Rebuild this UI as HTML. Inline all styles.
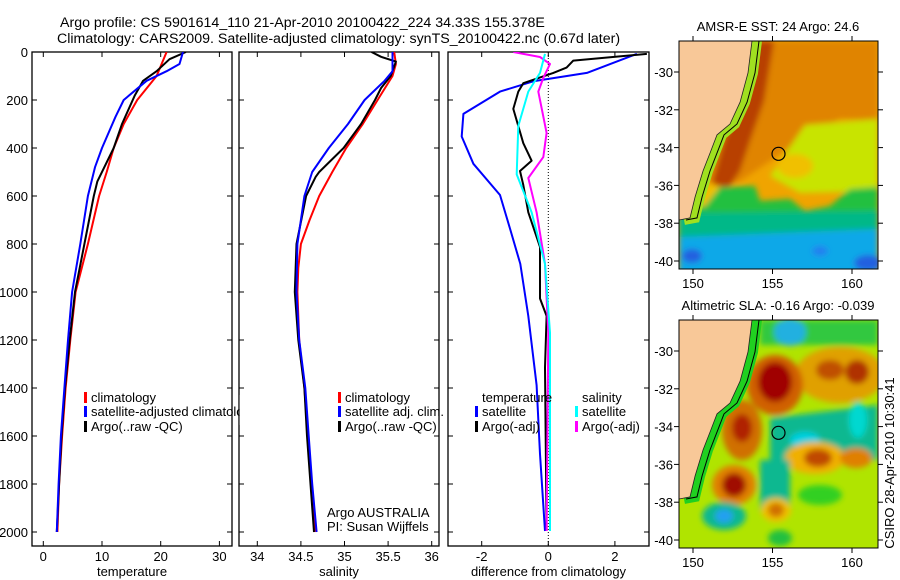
<!DOCTYPE html>
<html><head><meta charset="utf-8">
<style>
html,body{margin:0;padding:0;background:#fff;}
svg{display:block;font-family:"Liberation Sans",sans-serif;}
text{font-size:13px;fill:#000;}
</style></head>
<body>
<svg id="fig" width="900" height="580" viewBox="0 0 900 580" xmlns="http://www.w3.org/2000/svg">
<defs>
<filter id="bl" x="-20%" y="-20%" width="140%" height="140%"><feGaussianBlur stdDeviation="3"/></filter>
<clipPath id="cp1"><rect x="32" y="52" width="200" height="494"/></clipPath>
<clipPath id="cp2"><rect x="239" y="52" width="200" height="494"/></clipPath>
<clipPath id="cp3"><rect x="448" y="52" width="201" height="494"/></clipPath>
<clipPath id="cm1"><rect x="679" y="41" width="199" height="228"/></clipPath>
<clipPath id="cm2"><rect x="679" y="320" width="199" height="228"/></clipPath>
</defs>
<text x="60" y="27" style="font-size:14.2px">Argo profile: CS 5901614_110 21-Apr-2010 20100422_224 34.33S 155.378E</text>
<text x="57" y="43" style="font-size:14.2px">Climatology: CARS2009. Satellite-adjusted climatology: synTS_20100422.nc (0.67d later)</text>
<g id="plots"></g>
<g id="maps"></g>
</svg>
<script>
// ---------- data ----------
const depthTicks = [0,200,400,600,800,1000,1200,1400,1600,1800,2000];
const tempTicks = [0,10,20,30];
const salTicks = [34,34.5,35,35.5,36];
const salTickLabels = ["34","34.5","35","35.5","36"];
const diffTicks = [-2,0,2];

const tClimDepth = [0,100,200,300,400,500,600,800,1000,1200,1400,1600,1800,2000];
const tClimVal   = [21.0,19.3,16.0,13.7,12.0,10.8,9.5,7.6,5.5,4.6,3.8,3.2,2.7,2.4];
const tSatDepth  = [0,50,80,120,200,270,400,480,600,800,1000,1200,1400,1600,1800,2000];
const tSatVal    = [23.8,23.2,21.0,17.6,13.7,12.3,10.0,8.8,7.6,6.3,4.9,4.2,3.6,3.0,2.6,2.3];
const tArgoDepth = [0,30,80,120,180,300,400,540,600,800,1000,1200,1400,1600,1800,2000];
const tArgoVal   = [24.3,21.5,19.3,17.0,15.6,13.4,12.0,9.2,8.6,7.0,5.4,4.5,3.7,3.1,2.7,2.3];

const sClimDepth = [0,50,100,200,300,400,500,600,700,800,900,1000,1200,1400,1600,1800,2000];
const sClimVal   = [35.57,35.59,35.55,35.38,35.21,35.02,34.86,34.71,34.60,34.50,34.47,34.46,34.48,34.54,34.58,34.62,34.66];
const sSatDepth  = [0,80,120,200,300,400,500,600,800,1000,1200,1400,1600,1800,2000];
const sSatVal    = [35.55,35.55,35.46,35.23,35.04,34.82,34.63,34.54,34.46,34.45,34.48,34.55,34.59,34.63,34.68];
const sArgoDepth = [0,20,40,100,150,200,300,400,500,520,600,800,1000,1200,1400,1600,1800,2000];
const sArgoVal   = [35.31,35.42,35.59,35.53,35.42,35.35,35.19,34.99,34.71,34.67,34.56,34.45,34.43,34.47,34.54,34.57,34.61,34.65];

const dTSatDepth = [8,87,122,165,258,352,466,596,740,883,1100,1388,1675,1996];
const dTSatVal   = [2.66,1.16,-0.45,-1.45,-2.55,-2.6,-2.25,-1.45,-1.14,-0.84,-0.6,-0.35,-0.25,-0.1];
const dTArgoDepth= [8,36,65,87,130,165,237,380,453,496,554,668,812,1027,1100,1315,1996];
const dTArgoVal  = [2.96,0.75,0.55,0.15,-0.75,-0.9,-1.05,-0.75,-0.5,-0.85,-0.75,-0.6,-0.25,-0.25,-0.05,-0.1,-0.05];
const dSSatDepth = [8,87,165,308,510,668,883,1170,1996];
const dSSatVal   = [-0.1,-0.25,-0.6,-0.9,-0.95,-0.5,-0.1,0.05,0.05];
const dSArgoDepth= [0,21,50,108,165,337,438,525,668,883,1170,1996];
const dSArgoVal  = [-1.05,-0.25,0.05,-0.15,-0.3,-0.05,-0.15,-0.6,-0.35,-0.1,0,-0.05];

// ---------- helpers ----------
const NS="http://www.w3.org/2000/svg";
function mk(tag, attrs, parent){const e=document.createElementNS(NS,tag);for(const k in attrs)e.setAttribute(k,attrs[k]);parent.appendChild(e);return e;}
const plots=document.getElementById('plots');
const yD = d => 52 + 0.24*d;
const panels = [
  {x0:32,x1:232, sx:v=>43.3+5.87*v, ticks:tempTicks, labels:tempTicks.map(String), title:"temperature", name:"temperature", clip:"cp1"},
  {x0:239,x1:439, sx:v=>257.3+87.2*(v-34), ticks:salTicks, labels:salTickLabels, title:"salinity", name:"salinity", clip:"cp2"},
  {x0:448,x1:649, sx:v=>548.3+33.3*v, ticks:diffTicks, labels:diffTicks.map(String), title:"difference from climatology", name:"difference", clip:"cp3"}
];
panels.forEach((p,i)=>{
  const g=mk('g',{},plots);
  
  
  const r=mk('rect',{x:p.x0,y:52,width:p.x1-p.x0,height:494,fill:'#fff',stroke:'#000','stroke-width':1.3},g);
  
  
  depthTicks.forEach(d=>{
    mk('line',{x1:p.x0,x2:p.x0+5,y1:yD(d),y2:yD(d),stroke:'#000'},g);
    mk('line',{x1:p.x1-5,x2:p.x1,y1:yD(d),y2:yD(d),stroke:'#000'},g);
    if(i===0){const t=mk('text',{x:28,y:yD(d)+5,'text-anchor':'end'},g);t.textContent=d;
      
      }
  });
  p.ticks.forEach((v,j)=>{
    const x=p.sx(v);
    mk('line',{x1:x,x2:x,y1:52,y2:57,stroke:'#000'},g);
    mk('line',{x1:x,x2:x,y1:541,y2:546,stroke:'#000'},g);
    const t=mk('text',{x:x,y:561,'text-anchor':'middle'},g);t.textContent=p.labels[j];
    
    
  });
  const xt=mk('text',{x:(p.x0+p.x1)/2,y:576,'text-anchor':'middle'},g);xt.textContent=p.title;
  
  
});
function curve(panel, depths, vals, color, name, w){
  const p=panels[panel];
  const pts=depths.map((d,k)=>p.sx(vals[k]).toFixed(1)+','+yD(d).toFixed(1)).join(' ');
  const pl=mk('polyline',{points:pts,fill:'none',stroke:color,'stroke-width':w||2,'clip-path':'url(#'+p.clip+')','stroke-linejoin':'round'},plots);
  
  
}
const zl=mk('line',{x1:panels[2].sx(0),x2:panels[2].sx(0),y1:52,y2:546,stroke:'#000','stroke-dasharray':'1,2'},plots);


curve(0,tClimDepth,tClimVal,'#f00','temp-climatology-line');
curve(0,tArgoDepth,tArgoVal,'#000','temp-argo-line');
curve(0,tSatDepth,tSatVal,'#00f','temp-satellite-line');
curve(1,sClimDepth,sClimVal,'#f00','sal-climatology-line');
curve(1,sArgoDepth,sArgoVal,'#000','sal-argo-line');
curve(1,sSatDepth,sSatVal,'#00f','sal-satellite-line');
curve(2,dTSatDepth,dTSatVal,'#00f','diff-temp-satellite-line');
curve(2,dTArgoDepth,dTArgoVal,'#000','diff-temp-argo-line');
curve(2,dSArgoDepth,dSArgoVal,'#f0f','diff-sal-argo-line');
curve(2,dSSatDepth,dSSatVal,'#0ff','diff-sal-satellite-line');

function leg(x, y, color, label, name){
  if(color){const b=mk('rect',{x:x-7,y:y-10,width:3,height:11,fill:color},plots);
    
    }
  const t=mk('text',{x:x,y:y},plots);t.textContent=label;
  
  
  return t;
}
leg(91,402,'#f00','climatology','legend-temp-climatology');
leg(91,416,'#00f','satellite-adjusted climatology','legend-temp-satellite');
leg(91,431,'#000','Argo(..raw -QC)','legend-temp-argo');
const cov=mk('rect',{x:239.7,y:395,width:60,height:30,fill:'#fff'},plots);


leg(345,402,'#f00','climatology','legend-sal-climatology');
leg(345,416,'#00f','satellite adj. clim.','legend-sal-satellite');
leg(345,431,'#000','Argo(..raw -QC)','legend-sal-argo');
leg(327,517,null,'Argo AUSTRALIA','credit-argo-australia');
leg(327,531,null,'PI: Susan Wijffels','credit-pi');
leg(482,402,null,'temperature','legend-diff-temperature-header');
leg(482,416,'#00f','satellite','legend-diff-temp-satellite');
leg(482,431,'#000','Argo(-adj)','legend-diff-temp-argo');
leg(582,402,null,'salinity','legend-diff-salinity-header');
leg(582,416,'#0ff','satellite','legend-diff-sal-satellite');
leg(582,431,'#f0f','Argo(-adj)','legend-diff-sal-argo');

// ---------- maps ----------
const maps=document.getElementById('maps');
const latTicks=[-30,-32,-34,-36,-38,-40];
const lonTicks=[150,155,160];
const coastLon=[153.71,153.46,152.96,152.33,151.51,151.07,150.63,150.13,149.81,149.12];
const coastLat=[-28.36,-30.05,-31.59,-32.75,-33.33,-34.29,-35.24,-36.61,-37.72,-37.83];
const argoLon=155.378, argoLat=-34.33;
const mx = lon => 693 + 15.9*(lon-150);
function drawMap(y0, title, blobs, strip, name, clip){
  const my = lat => y0 + 31 + 18.9*(-30-lat);
  const g=mk('g',{},maps);
  
  
  const inner=mk('g',{'clip-path':'url(#'+clip+')'},g);
  mk('rect',{x:679,y:y0,width:199,height:228,fill:blobs.base},inner);
  const bg=mk('g',{filter:'url(#bl)'},inner);
  blobs.shapes.forEach(s=>{
    if(s[0]==='p') mk('polygon',{points:s[1].map(q=>q[0]+','+(q[1]+y0)).join(' '),fill:s[2]},bg);
    else mk('ellipse',{cx:s[1],cy:s[2]+y0,rx:s[3],ry:s[4],fill:s[5]},bg);
  });
  const cpts=coastLon.map((l,k)=>mx(l).toFixed(1)+','+my(coastLat[k]).toFixed(1));
  mk('polyline',{points:coastLon.map((l,k)=>(mx(l)+5).toFixed(1)+','+my(coastLat[k]).toFixed(1)).join(' '),fill:'none',stroke:strip,'stroke-width':10},inner);
  const land=mk('polygon',{points:cpts.join(' ')+' 679,'+my(-37.83)+' 679,'+y0,fill:'#f8c898'},inner);
  
  
  mk('polyline',{points:coastLon.map((l,k)=>(mx(l)+7).toFixed(1)+','+my(coastLat[k]).toFixed(1)).join(' '),fill:'none',stroke:'#000','stroke-width':1},inner);
  mk('polyline',{points:cpts.join(' '),fill:'none',stroke:'#222','stroke-width':0.8},inner);
  const c=mk('circle',{cx:mx(argoLon),cy:my(argoLat),r:6.5,fill:'none',stroke:'#000','stroke-width':1.2},g);
  
  
  mk('rect',{x:679,y:y0,width:199,height:228,fill:'none',stroke:'#000'},g);
  latTicks.forEach(l=>{
    const y=my(l);
    mk('line',{x1:674,x2:679,y1:y,y2:y,stroke:'#000'},g);
    mk('line',{x1:878,x2:883,y1:y,y2:y,stroke:'#000'},g);
    const t=mk('text',{x:673,y:y+5,'text-anchor':'end'},g);t.textContent=l;
    
    
  });
  lonTicks.forEach(l=>{
    const x=mx(l);
    mk('line',{x1:x,x2:x,y1:y0-5,y2:y0,stroke:'#000'},g);
    mk('line',{x1:x,x2:x,y1:y0+228,y2:y0+233,stroke:'#000'},g);
    const t=mk('text',{x:x,y:y0+247,'text-anchor':'middle'},g);t.textContent=l;
    
    
  });
  const tt=mk('text',{x:778,y:y0-10,'text-anchor':'middle'},g);tt.textContent=title;
  
  
}
const sstBlobs={base:'#f0a400',shapes:[
  ['p',[[745,0],[878,0],[878,80],[840,78],[800,100],[770,120],[740,140],[715,145],[700,130]],'#e08400'],
  ['p',[[752,0],[774,0],[764,60],[750,100],[740,130],[728,148],[712,142],[724,100],[740,60]],'#b84000'],
  ['p',[[805,84],[878,78],[878,150],[800,152],[770,135]],'#c8e400'],
  ['e',795,125,18,12,'#f0c000'],
  ['e',712,160,14,16,'#f0c000'],
  ['p',[[720,146],[755,145],[760,160],[790,158],[805,170],[830,165],[850,148],[878,146],[878,182],[679,182],[679,165],[705,165]],'#20c040'],
  ['p',[[679,172],[878,170],[878,200],[679,200]],'#00b888'],
  ['p',[[679,196],[878,188],[878,240],[679,240]],'#10a8e8'],
  ['e',692,215,10,7,'#2060e0'],
  ['e',868,222,14,8,'#2060e0'],
  ['e',820,210,8,5,'#2080f0']
]};
const slaBlobs={base:'#b0e400',shapes:[
  ['p',[[760,0],[878,0],[878,25],[760,25]],'#30c840'],
  ['e',790,12,16,14,'#20b0e0'],
  ['e',840,55,45,28,'#e0a000'],
  ['e',830,50,14,10,'#c05000'],
  ['e',857,52,12,12,'#b03000'],
  ['e',775,65,28,30,'#d06000'],
  ['e',775,62,17,20,'#a00000'],
  ['e',742,110,20,30,'#d07000'],
  ['e',742,108,10,14,'#b02000'],
  ['p',[[770,98],[878,85],[878,140],[770,140]],'#10b890'],
  ['e',858,100,9,18,'#00d8d0'],
  ['e',805,120,15,8,'#00d0e0'],
  ['e',815,138,30,16,'#f0b000'],
  ['e',818,138,14,9,'#c04800'],
  ['e',856,138,16,10,'#e08000'],
  ['e',734,165,22,20,'#e08000'],
  ['e',734,165,12,12,'#a01000'],
  ['p',[[760,140],[790,140],[790,190],[760,190]],'#10b890'],
  ['e',820,175,22,10,'#30d020'],
  ['e',724,196,22,14,'#10b890'],
  ['e',724,196,9,7,'#20a0f0'],
  ['e',776,190,15,12,'#f0c000'],
  ['e',776,190,8,7,'#d07000'],
  ['e',780,218,12,8,'#20c040']
]};
drawMap(41,'AMSR-E SST: 24 Argo: 24.6',sstBlobs,'#a0e020','sst-map','cm1');
drawMap(320,'Altimetric SLA: -0.16 Argo: -0.039',slaBlobs,'#20d020','sla-map','cm2');
const ts=mk('text',{x:0,y:0,transform:'translate(894,463) rotate(-90)','text-anchor':'middle'},maps);
ts.textContent='CSIRO 28-Apr-2010 10:30:41';


</script>
</body></html>
